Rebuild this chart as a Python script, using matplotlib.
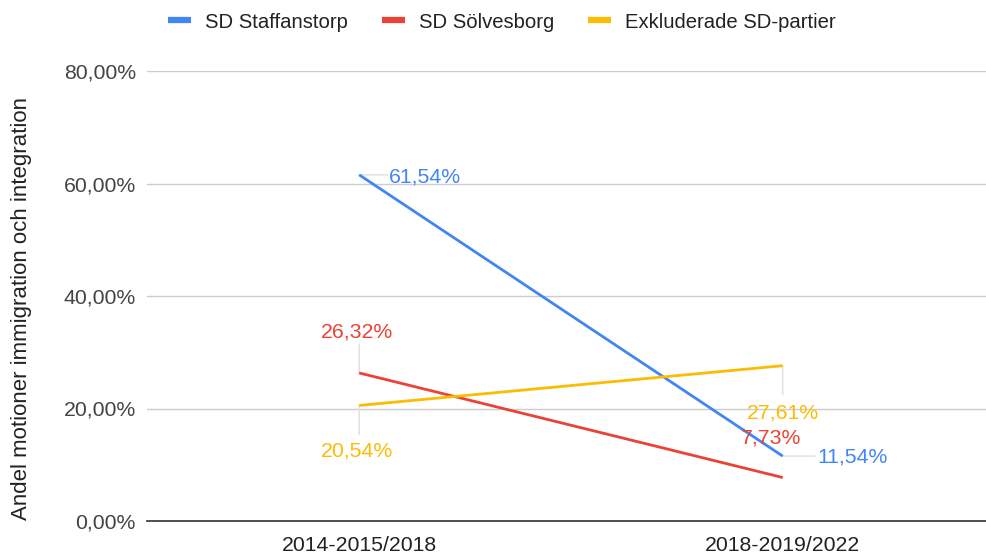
import matplotlib
matplotlib.use("Agg")
import matplotlib.pyplot as plt
from matplotlib.lines import Line2D
from matplotlib.ticker import FuncFormatter

plt.rcParams["font.family"] = ["Liberation Sans", "DejaVu Sans"]

# --- data ---
periods      = ["2014-2015/2018", "2018-2019/2022"]
staffanstorp = [61.54, 11.54]
solvesborg   = [26.32, 7.73]
excluded     = [20.54, 27.61]
series_names = ["SD Staffanstorp", "SD Sölvesborg", "Exkluderade SD-partier"]
y_ticks      = [0, 20, 40, 60, 80]

BLUE   = "#4285F4"
RED    = "#EA4335"
YELLOW = "#FBBC04"
LEADER = "#e3e3e3"


def pct(v):
    return f"{v:.2f}".replace(".", ",") + "%"


fig = plt.figure(figsize=(9.86, 5.6), dpi=100)
ax = fig.add_axes([147 / 986, 39 / 560, (986 - 147) / 986, 450 / 560])

x = list(range(len(periods)))
series = [staffanstorp, solvesborg, excluded]
colors = [BLUE, RED, YELLOW]
for vals, c in zip(series, colors):
    ax.plot(x, vals, color=c, linewidth=2.0, solid_capstyle="butt", zorder=3)

ax.set_xlim(-0.501, 1.48)
ax.set_ylim(0, 80)
ax.set_yticks(y_ticks)
ax.yaxis.set_major_formatter(FuncFormatter(lambda v, _: pct(v)))
ax.set_xticks(x)
ax.set_xticklabels(periods, fontsize=15.3, color="#222222")
ax.tick_params(axis="y", length=0, pad=8, labelsize=15.3, labelcolor="#444444")
ax.tick_params(axis="x", length=0, pad=11)
ax.grid(axis="y", color="#cccccc", linewidth=1.0)
ax.set_axisbelow(True)
for side in ["top", "right", "left"]:
    ax.spines[side].set_visible(False)
ax.spines["bottom"].set_color("#333333")
ax.spines["bottom"].set_linewidth(1.2)
ax.spines["bottom"].set_zorder(4)

# data labels: (series, point, text dx, text dy, ha, leader dx, leader dy) in pixels
label_spec = [
    (0, 0, 30, -2, "left", 28, 0),
    (1, 0, -2, 41, "center", 0, 29),
    (2, 0, -2, -46, "center", 0, -29),
    (2, 1, 0, -47, "center", 0, -29),
    (1, 1, -12, 40, "center", 0, 0),
    (0, 1, 35, -1, "left", 32, 0),
]
for si, pi, dx, dy, ha, lx, ly in label_spec:
    v = series[si][pi]
    if lx or ly:
        ax.annotate("", xy=(pi, v), xytext=(lx, ly), textcoords="offset pixels",
                    arrowprops=dict(arrowstyle="-", color=LEADER, lw=1.2,
                                    shrinkA=0, shrinkB=0), zorder=2)
    ax.annotate(pct(v), xy=(pi, v), xytext=(dx, dy), textcoords="offset pixels",
                ha=ha, va="center", fontsize=15.3, color=colors[si], zorder=5)

fig.text(22 / 986, 1 - 308 / 560, "Andel motioner immigration och integration",
         rotation=90, ha="center", va="center", fontsize=16, color="#222222")

handles = [Line2D([0], [0], color=c, linewidth=4.5, solid_capstyle="butt") for c in colors]
fig.legend(handles, series_names, loc="center", bbox_to_anchor=(502 / 986, 1 - 22 / 560),
           ncol=3, frameon=False, fontsize=14.6, handlelength=1.1, handletextpad=0.7,
           columnspacing=1.7, labelcolor="#222222")

fig.savefig("out.png", dpi=100)
